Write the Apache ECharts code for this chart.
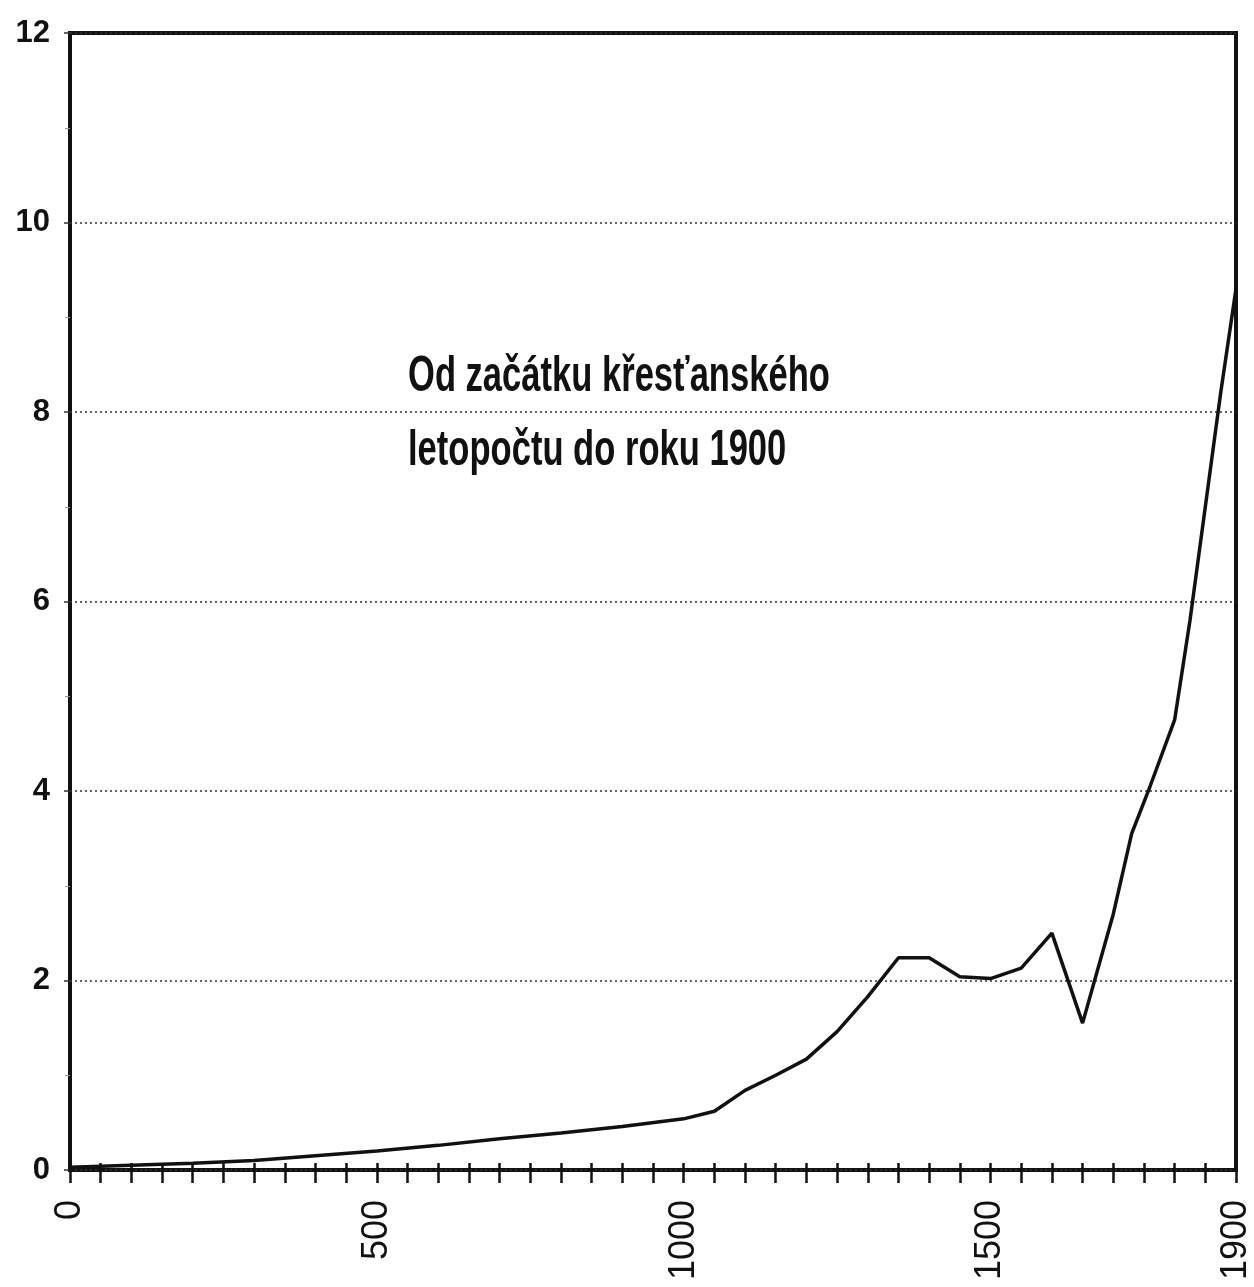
<!DOCTYPE html>
<html>
<head>
<meta charset="utf-8">
<script src="https://cdn.jsdelivr.net/npm/echarts@6/dist/echarts.min.js"></script>
<style>
  html, body { margin: 0; padding: 0; background: #fff; }
  #chart { width: 1254px; height: 1287px; }
</style>
</head>
<body>
<div id="chart"></div>
<script>
// Years (x) and values (y) of the curve
const years  = [0, 100, 200, 300, 400, 500, 600, 700, 800, 900, 1000, 1050, 1100, 1150, 1200, 1250, 1300, 1350, 1400, 1450, 1500, 1550, 1600, 1650, 1700, 1730, 1760, 1800, 1825, 1850, 1875, 1900];
const values = [0.03, 0.05, 0.07, 0.1, 0.15, 0.2, 0.26, 0.33, 0.39, 0.46, 0.54, 0.62, 0.84, 1.0, 1.17, 1.46, 1.83, 2.24, 2.24, 2.04, 2.02, 2.13, 2.5, 1.55, 2.7, 3.55, 4.05, 4.75, 5.8, 7.0, 8.2, 9.3];

// Labelled years on the horizontal axis
const xLabels = [0, 500, 1000, 1500, 1900];

const noteLines = ['Od začátku křesťanského', 'letopočtu do roku 1900'];

const points = years.map((y, i) => [y, values[i]]);

const chart = echarts.init(document.getElementById('chart'), null, { renderer: 'canvas' });

const xBase = {
  type: 'value',
  min: 0,
  max: 1900,
  interval: 50,
  splitLine: { show: false },
  axisLine: { show: false }
};

// Condensed heading: a bold face squeezed horizontally
const noteFont = 'bold 48px "Liberation Sans", Arial, sans-serif';
const noteText = (text, y) => ({
  type: 'text',
  x: 408,
  y: y,
  scaleX: 0.72,
  scaleY: 1.05,
  style: { text: text, fill: '#111', font: noteFont, verticalAlign: 'middle', align: 'left' }
});

chart.setOption({
  animation: false,
  backgroundColor: '#fff',
  grid: {
    left: 70, right: 14, top: 33, bottom: 117,
    show: true,
    borderColor: '#111',
    borderWidth: 4,
    backgroundColor: 'transparent'
  },
  xAxis: [
    Object.assign({}, xBase, {
      position: 'bottom',
      axisTick: { show: true, inside: false, length: 13, lineStyle: { color: '#111', width: 2.5 } },
      axisLabel: {
        rotate: 90,
        margin: 30,
        color: '#111',
        fontFamily: 'Liberation Sans, Arial, sans-serif',
        fontSize: 36,
        formatter: v => (xLabels.indexOf(v) >= 0 ? String(v) : '')
      }
    }),
    Object.assign({}, xBase, {
      position: 'bottom',
      axisTick: { show: true, inside: true, length: 7, lineStyle: { color: '#111', width: 2.5 } },
      axisLabel: { show: false }
    })
  ],
  yAxis: {
    type: 'value',
    min: 0,
    max: 12,
    interval: 2,
    axisLine: { show: false },
    axisTick: { show: true, length: 6, lineStyle: { color: '#333', width: 1.5 } },
    minorTick: { show: true, splitNumber: 2, length: 5, lineStyle: { color: '#999', width: 1 } },
    splitLine: { show: true, lineStyle: { color: '#333', type: [2, 3], width: 1.5 } },
    axisLabel: {
      margin: 20,
      color: '#111',
      fontFamily: 'Liberation Sans, Arial, sans-serif',
      fontWeight: 'bold',
      fontSize: 31
    }
  },
  graphic: [
    noteText(noteLines[0], 377),
    noteText(noteLines[1], 451)
  ],
  series: [
    {
      type: 'line',
      xAxisIndex: 0,
      data: points,
      symbol: 'none',
      smooth: false,
      lineStyle: { color: '#111', width: 3.5 },
      z: 5
    }
  ]
});
</script>
</body>
</html>
